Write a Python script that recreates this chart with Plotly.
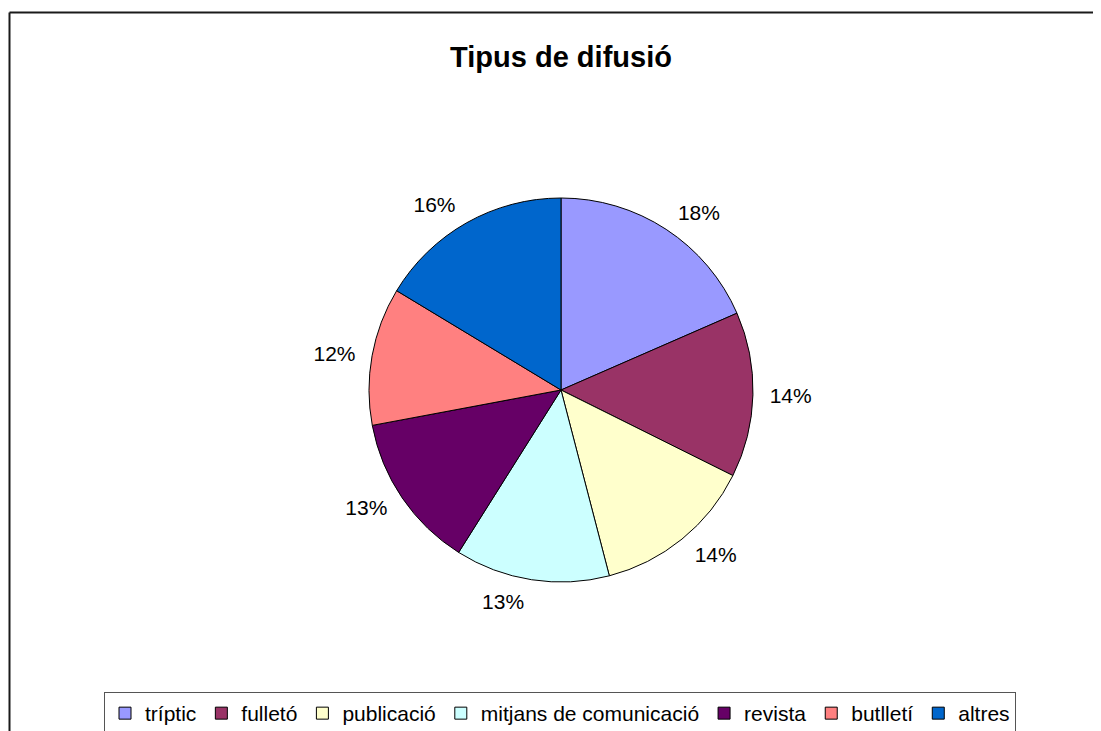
import plotly.graph_objects as go

# chart data (shares in %)
labels = ["tríptic", "fulletó", "publicació", "mitjans de comunicació",
          "revista", "butlletí", "altres"]
shares = [18.45, 13.9, 13.6, 13.0, 13.1, 11.6, 16.35]
colors = ["#9999FF", "#993366", "#FFFFCC", "#CCFFFF",
          "#660066", "#FF8080", "#0066CC"]

W, H = 1101, 731
OFF = 8  # page body margin in the browser
FONT = "Liberation Sans, Arial, sans-serif"

# pie position in page pixels
cx, cy, r = 561 - OFF, 390 - OFF, 192
r_lab = r + 11  # labels sit a bit further out than plotly's default


def dom(rad):
    return dict(x=[(cx - rad) / W, (cx + rad) / W],
                y=[1 - (cy + rad) / H, 1 - (cy - rad) / H])


fig = go.Figure()
# the pie itself
fig.add_trace(go.Pie(
    labels=labels, values=shares, sort=False, direction="clockwise", rotation=0,
    marker=dict(colors=colors, line=dict(color="black", width=1)),
    textinfo="none", domain=dom(r),
))
# transparent copy that carries the percentage labels
fig.add_trace(go.Pie(
    labels=labels, values=shares, sort=False, direction="clockwise", rotation=0,
    marker=dict(colors=["rgba(0,0,0,0)"] * len(labels), line=dict(width=0)),
    textposition="outside", texttemplate="%{percent:.0%}",
    outsidetextfont=dict(family=FONT, size=21, color="black"),
    showlegend=False, hoverinfo="skip", domain=dom(r_lab),
))

# chart frame (left and top edges visible)
left, top = 9.5 - OFF, 12.5 - OFF
fig.add_shape(type="line", xref="paper", yref="paper",
              x0=left / W, x1=1.0, y0=1 - top / H, y1=1 - top / H,
              line=dict(color="#1a1a1a", width=2))
fig.add_shape(type="line", xref="paper", yref="paper",
              x0=left / W, x1=left / W, y0=0, y1=1 - top / H,
              line=dict(color="#1a1a1a", width=2))

fig.update_layout(
    width=W, height=H,
    margin=dict(l=0, r=0, t=0, b=0, autoexpand=False),
    paper_bgcolor="white", plot_bgcolor="white",
    title=dict(text="<b>Tipus de difusió</b>", x=(561 - OFF) / W, y=1 - (57 - OFF) / H,
               xanchor="center", yanchor="middle",
               font=dict(family=FONT, size=29, color="black")),
    legend=dict(orientation="h", x=(560 - OFF) / W, xanchor="center",
                y=1 - (692 - OFF) / H, yanchor="top",
                font=dict(family=FONT, size=21, color="black"),
                bordercolor="#555555", borderwidth=1, itemwidth=30,
                traceorder="normal"),
    showlegend=True,
)

fig.write_html("out.html")
